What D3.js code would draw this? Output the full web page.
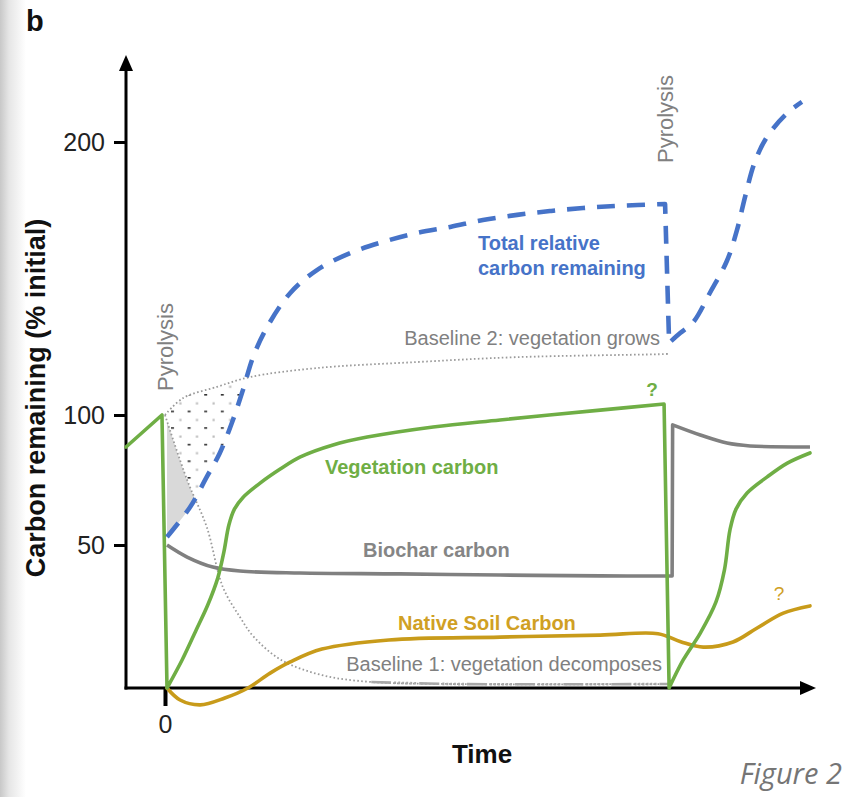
<!DOCTYPE html>
<html>
<head>
<meta charset="utf-8">
<script src="https://cdn.jsdelivr.net/npm/d3@7"></script>
<style>
  html, body { margin: 0; padding: 0; background: #ffffff; }
  svg { display: block; }
</style>
</head>
<body>
<svg id="chart" width="850" height="797"></svg>
<script>
// ---------------- DATA (time units, carbon % of initial) ----------------
const yTickValues = [50, 100, 200];
const xTickValues = [0];

// Vegetation carbon (green)
const vegetation = [
  [-0.775, 87.7], [-0.06, 100], [0.04, 0], [0.34, 9.8], [0.62, 20.3], [0.85, 29.0],
  [1.05, 38.5], [1.17, 47.5], [1.27, 57.7], [1.38, 63.8], [1.55, 68.3], [1.89, 73.8],
  [2.29, 79.2], [2.68, 83.8], [3.34, 88.5], [4.02, 91.5], [5.33, 95.4], [6.66, 98.1],
  [8.65, 101.8], [9.92, 104.0], [10.02, 0], [10.30, 9.8], [10.64, 19.2], [10.95, 30.0],
  [11.12, 41.3], [11.23, 55.8], [11.35, 63.8], [11.57, 70.0], [11.97, 76.2],
  [12.37, 81.5], [12.82, 85.4]
];
const vegetationBreaks = [1, 2, 19, 20];

// Biochar carbon (grey)
const biochar = [
  [0.04, 50], [0.44, 45.8], [0.95, 42.3], [1.49, 40.9], [2.68, 40.2], [4.67, 39.9],
  [6.66, 39.5], [8.65, 39.2], [10.08, 39.2], [10.09, 96.2], [10.64, 92.3],
  [11.17, 89.2], [11.63, 88.1], [12.82, 87.7]
];
const biocharBreaks = [8, 9];

// Native soil carbon (gold)
const nativeSoil = [
  [0.04, 0], [0.30, -4.2], [0.70, -5.9], [1.19, -3.5], [1.65, 0], [2.09, 5.2],
  [2.49, 9.1], [3.12, 13.6], [4.45, 16.8], [6.66, 17.8], [8.65, 18.5], [9.80, 19.0],
  [10.25, 16.2], [10.70, 14.3], [11.29, 16.1], [11.77, 21.0], [12.29, 26.2], [12.82, 28.7]
];
const nativeSoilBreaks = [];

// Total relative carbon remaining (blue dashed)
const totalCarbon = [
  [0.04, 53.1], [0.50, 64.6], [0.83, 76.2], [1.09, 85.4], [1.35, 98.1], [1.55, 109.2],
  [1.75, 121.2], [2.03, 132.2], [2.49, 144.7], [3.02, 153.1], [3.68, 159.3],
  [4.33, 163.4], [5.01, 166.7], [5.67, 168.9], [6.32, 171.4], [7.00, 173.3],
  [7.65, 174.7], [8.31, 175.8], [8.99, 176.6], [9.94, 177.3], [10.02, 126.4],
  [10.24, 130.0], [10.50, 134.0], [10.83, 144.7], [11.17, 156.5], [11.37, 167.8],
  [11.53, 179.9], [11.72, 192.5], [11.97, 202.0], [12.37, 210.6], [12.66, 214.7]
];
const totalCarbonBreaks = [19, 20];

// Baseline 2: vegetation grows (dotted)
const baseline2 = [
  [0, 100], [0.36, 106.2], [1.03, 110.3], [1.69, 113.9], [3.02, 117.2],
  [5.01, 119.4], [7.00, 121.2], [9.90, 122.3], [10.0, 122.4]
];

// Baseline 1: vegetation decomposes (dotted)
const baseline1 = [
  [0, 100], [0.44, 75], [0.83, 56.9], [1.15, 35.3], [1.49, 24.8], [1.77, 17.8],
  [2.31, 9.8], [3.12, 4.5], [4.10, 2.1], [5.67, 1.4], [10.0, 1.4]
];

// ---------------- SCALES ----------------
const W = 850, H = 797;
const x = d3.scaleLinear().domain([-0.775, 12.9]).range([126, 814]);
const y = d3.scaleLinear().domain([0, 50, 100, 200]).range([688, 545, 415, 142]);

const svg = d3.select("#chart");
const defs = svg.append("defs");

// left edge grey fade
const grad = defs.append("linearGradient").attr("id", "edge").attr("x1", 0).attr("x2", 1);
grad.append("stop").attr("offset", "0%").attr("stop-color", "#c8c8c8");
grad.append("stop").attr("offset", "35%").attr("stop-color", "#e6e6e6");
grad.append("stop").attr("offset", "100%").attr("stop-color", "#ffffff");
svg.append("rect").attr("width", W).attr("height", H).attr("fill", "#fff");
svg.append("rect").attr("x", 0).attr("y", 0).attr("width", 26).attr("height", H).attr("fill", "url(#edge)");

// stipple pattern
const pat = defs.append("pattern").attr("id", "dots").attr("patternUnits", "userSpaceOnUse")
  .attr("x", 171).attr("y", 394).attr("width", 16.6).attr("height", 16.6);
pat.append("rect").attr("x", 0).attr("y", 0).attr("width", 3).attr("height", 1.6).attr("fill", "#333");
pat.append("rect").attr("x", 8.3).attr("y", 8.3).attr("width", 2.2).attr("height", 2.2).attr("fill", "#bdbdbd");

const curve = d3.curveCatmullRom.alpha(0.5);
const line = d3.line().x(d => x(d[0])).y(d => y(d[1])).curve(curve);
function seriesPath(data, breaks) {
  const cuts = [0, ...breaks, data.length - 1];
  let d = "";
  for (let i = 0; i < cuts.length - 1; i++) {
    const s = line(data.slice(cuts[i], cuts[i + 1] + 1));
    d += i === 0 ? s : s.replace(/^M/, "L");
  }
  return d;
}
const areaBelow = d3.area().x(d => x(d[0])).y0(H).y1(d => y(d[1])).curve(curve);
const areaAbove = d3.area().x(d => x(d[0])).y0(0).y1(d => y(d[1])).curve(curve);

defs.append("clipPath").attr("id", "belowB1").append("path").attr("d", areaBelow(baseline1));
defs.append("clipPath").attr("id", "aboveB1").append("path").attr("d", areaAbove(baseline1));
defs.append("clipPath").attr("id", "belowB2").append("path").attr("d", areaBelow(baseline2));

const blueFirst = totalCarbon.slice(0, totalCarbonBreaks[0] + 1);

// grey wedge: above total, below baseline 1
svg.append("g").attr("clip-path", "url(#belowB1)")
  .append("path").attr("d", areaAbove(blueFirst)).attr("fill", "#d9d9d9");

// stippled area: above total, above baseline 1, below baseline 2
svg.append("g").attr("clip-path", "url(#belowB2)")
  .append("g").attr("clip-path", "url(#aboveB1)")
  .append("path").attr("d", areaAbove(blueFirst)).attr("fill", "url(#dots)");

// ---------------- AXES ----------------
const yAxis = d3.axisLeft(y).tickValues(yTickValues).tickSize(12).tickPadding(9).tickFormat(d3.format("d"));
const gy = svg.append("g").attr("transform", `translate(${x.range()[0]},0)`).call(yAxis);
gy.select(".domain").remove();
gy.selectAll(".tick line").attr("stroke", "#000").attr("stroke-width", 3);
gy.selectAll(".tick text").attr("font-family", "Liberation Sans, Arial, sans-serif")
  .attr("font-size", 25).attr("fill", "#222");

const xAxis = d3.axisBottom(x).tickValues(xTickValues).tickSize(18).tickPadding(9).tickFormat(d3.format("d"));
const gx = svg.append("g").attr("transform", `translate(0,${y(0)})`).call(xAxis);
gx.select(".domain").remove();
gx.selectAll(".tick line").attr("stroke", "#000").attr("stroke-width", 4);
gx.selectAll(".tick text").attr("font-family", "Liberation Sans, Arial, sans-serif")
  .attr("font-size", 25).attr("fill", "#222");

const x0 = x.range()[0], yb = y(0);
svg.append("line").attr("x1", x0).attr("x2", x0).attr("y1", yb + 1.5).attr("y2", 68)
  .attr("stroke", "#000").attr("stroke-width", 3);
svg.append("path").attr("d", `M${x0},55 L${x0 - 7},71 L${x0 + 7},71 Z`).attr("fill", "#000");
svg.append("line").attr("x1", x0 - 1.5).attr("x2", 802).attr("y1", yb).attr("y2", yb)
  .attr("stroke", "#000").attr("stroke-width", 3);
svg.append("path").attr("d", `M816,${yb} L800,${yb - 7} L800,${yb + 7} Z`).attr("fill", "#000");

// ---------------- BASELINES ----------------
svg.append("path").attr("d", line(baseline2)).attr("fill", "none")
  .attr("stroke", "#9a9a9a").attr("stroke-width", 1.8).attr("stroke-dasharray", "1.6 2.4");
svg.append("path").attr("d", line(baseline1)).attr("fill", "none")
  .attr("stroke", "#9a9a9a").attr("stroke-width", 1.8).attr("stroke-dasharray", "1.6 2.4");
svg.append("path").attr("d", line(baseline1.filter(d => d[0] >= 4.1))).attr("fill", "none")
  .attr("stroke", "#a8a8a8").attr("stroke-width", 2.6)
  .attr("stroke-dasharray", "20 3 2 2 2 2 2 2 2 2 2 2 2 3");

// ---------------- SERIES ----------------
svg.append("path").attr("d", seriesPath(biochar, biocharBreaks)).attr("fill", "none")
  .attr("stroke", "#808080").attr("stroke-width", 3.6).attr("stroke-linejoin", "round");
svg.append("path").attr("d", seriesPath(nativeSoil, nativeSoilBreaks)).attr("fill", "none")
  .attr("stroke", "#c89b1a").attr("stroke-width", 3.6).attr("stroke-linejoin", "round")
  .attr("stroke-linecap", "round");
svg.append("path").attr("d", seriesPath(vegetation, vegetationBreaks)).attr("fill", "none")
  .attr("stroke", "#6fae45").attr("stroke-width", 3.6).attr("stroke-linejoin", "round")
  .attr("stroke-linecap", "round");
svg.append("path").attr("d", seriesPath(totalCarbon, totalCarbonBreaks)).attr("fill", "none")
  .attr("stroke", "#4673c8").attr("stroke-width", 4.6).attr("stroke-dasharray", "18 12")
  .attr("stroke-linejoin", "round");

// ---------------- TEXT ----------------
const ff = "Liberation Sans, Arial, Helvetica, sans-serif";
function txt(str, px, py, opts) {
  const t = svg.append("text").attr("x", px).attr("y", py).text(str)
    .attr("font-family", ff).attr("font-size", opts.size || 20)
    .attr("font-weight", opts.bold ? "bold" : "normal")
    .attr("fill", opts.fill || "#000")
    .attr("text-anchor", opts.anchor || "start");
  if (opts.rotate) t.attr("transform", `rotate(-90,${px},${py})`);
  return t;
}
txt("b", 26, 31, { size: 29, bold: true, fill: "#111" });
txt("Carbon remaining (% initial)", 45, 398, { size: 27, bold: true, fill: "#111", anchor: "middle", rotate: true });
txt("Time", 482, 763, { size: 26, bold: true, fill: "#111", anchor: "middle" });

txt("Pyrolysis", 173, 391, { size: 22, fill: "#808080", rotate: true });
txt("Pyrolysis", 673, 163, { size: 22, fill: "#808080", rotate: true });

txt("Total relative", 478, 250, { size: 20, bold: true, fill: "#4673c8" });
txt("carbon remaining", 478, 275, { size: 20, bold: true, fill: "#4673c8" });
txt("Baseline 2: vegetation grows", 660, 345, { size: 20, fill: "#808080", anchor: "end" });
txt("?", 652, 396, { size: 19, bold: true, fill: "#6fae45", anchor: "middle" });
txt("Vegetation carbon", 325, 474, { size: 20, bold: true, fill: "#6fae45" });
txt("Biochar carbon", 363, 557, { size: 20, bold: true, fill: "#858585" });
txt("Native Soil Carbon", 398, 630, { size: 20, bold: true, fill: "#d0a024" });
txt("?", 779, 600, { size: 19, fill: "#d0a024", anchor: "middle" });
txt("Baseline 1: vegetation decomposes", 662, 671, { size: 20, fill: "#808080", anchor: "end" });

svg.append("text").attr("x", 842).attr("y", 784).text("Figure 2")
  .attr("font-family", "Open Sans, Noto Sans, sans-serif").attr("font-style", "italic")
  .attr("font-size", 29).attr("fill", "#757575").attr("text-anchor", "end");
</script>
</body>
</html>
